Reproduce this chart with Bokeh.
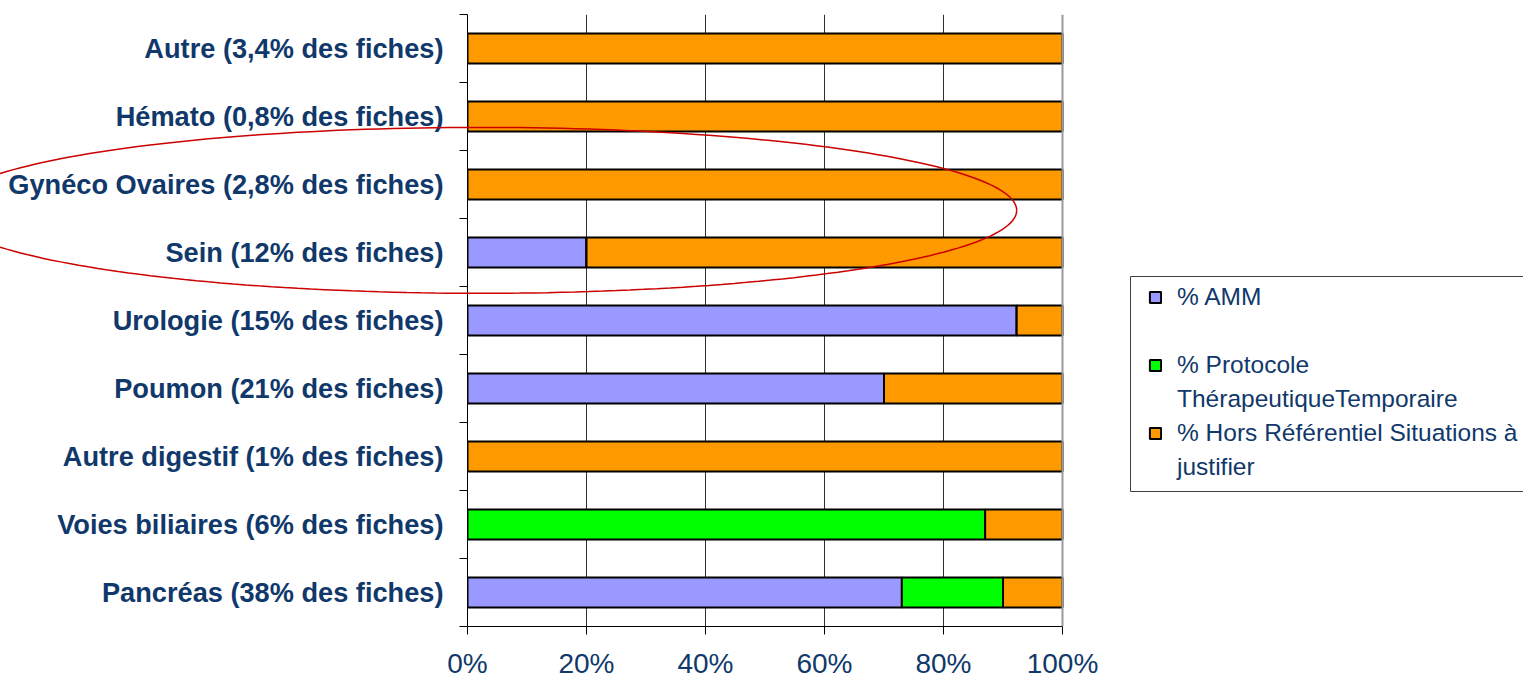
import numpy as np
from bokeh.plotting import figure
from bokeh.models import (Range1d, FixedTicker, Legend, LegendItem, BoxAnnotation,
                          PrintfTickFormatter, ColumnDataSource, Span)
from bokeh.embed import file_html
from bokeh.resources import INLINE

# Categories listed bottom to top
categories = [
    "Pancréas (38% des fiches)",
    "Voies biliaires (6% des fiches)",
    "Autre digestif (1% des fiches)",
    "Poumon (21% des fiches)",
    "Urologie (15% des fiches)",
    "Sein (12% des fiches)",
    "Gynéco Ovaires (2,8% des fiches)",
    "Hémato (0,8% des fiches)",
    "Autre (3,4% des fiches)",
]
pct_amm = [73, 0, 0, 70, 92.3, 20, 0, 0, 0]
pct_ptt = [17, 87, 0, 0, 0, 0, 0, 0, 0]
pct_hors = [10, 13, 100, 30, 7.7, 80, 100, 100, 100]
x_ticks = [0, 20, 40, 60, 80, 100]

# legend rows: (text, series index or None for a continuation line)
legend_rows = [
    ("% AMM", 0),
    (" ", None),
    ("% Protocole", 1),
    ("ThérapeutiqueTemporaire", None),
    ("% Hors Référentiel Situations à", 2),
    ("justifier", None),
]
colors = ["#9999FF", "#00FF00", "#FF9900"]

NAVY = "#10386A"
FONT = "Liberation Sans"

W, H = 1523, 681
LEFT, TOP, BOTTOM = 467, 14, 626
RIGHT_100 = 1062          # pixel column of the 100% gridline
n = len(categories)
centers = [i + 0.5 for i in range(n)]
boundaries = list(range(n + 1))

# the frame runs to the right edge; the legend sits inside it beyond 100%
x_end = 100 * (W - LEFT) / (RIGHT_100 - LEFT)
px_per_x = (RIGHT_100 - LEFT) / 100
px_per_y = (BOTTOM - TOP) / n

src = ColumnDataSource(dict(y=centers, amm=pct_amm, ptt=pct_ptt, hors=pct_hors))

p = figure(width=W, height=H, output_backend="svg", toolbar_location=None,
           x_range=Range1d(0, x_end), y_range=Range1d(0, n),
           min_border_left=LEFT, min_border_right=0, min_border_top=TOP,
           min_border_bottom=H - BOTTOM)
p.outline_line_color = None
p.background_fill_color = "white"
p.border_fill_color = "white"

renderers = p.hbar_stack(["amm", "ptt", "hors"], y="y", height=0.44, source=src,
                         fill_color=colors, line_color="black", line_width=2)

# x axis
xa = p.xaxis[0]
xa.bounds = (0, 100)
xa.ticker = FixedTicker(ticks=x_ticks)
xa.formatter = PrintfTickFormatter(format="%d%%")
xa.axis_line_color = "black"
xa.major_tick_line_color = "black"
xa.major_tick_out = 8
xa.major_tick_in = 0
xa.minor_tick_line_color = None
xa.major_label_text_font = FONT
xa.major_label_text_font_size = "28px"
xa.major_label_text_color = NAVY
xa.major_label_standoff = 13

# y axis: labels at centres, ticks on boundaries between categories
ya = p.yaxis[0]
ya.ticker = FixedTicker(ticks=centers, minor_ticks=boundaries)
ya.major_label_overrides = {c: lab for c, lab in zip(centers, categories)}
ya.major_tick_out = 0
ya.major_tick_in = 0
ya.minor_tick_out = 8
ya.minor_tick_in = 0
ya.minor_tick_line_color = "black"
ya.axis_line_color = "black"
ya.major_label_text_font = FONT
ya.major_label_text_font_style = "bold"
ya.major_label_text_font_size = "27.2px"
ya.major_label_text_color = NAVY
ya.major_label_standoff = 16

p.xgrid.ticker = FixedTicker(ticks=x_ticks[1:-1])
p.xgrid.grid_line_color = "#303030"
p.xgrid.grid_line_width = 1
p.ygrid.grid_line_color = None
p.add_layout(Span(location=100, dimension="height", line_color="#9a9a9a", line_width=2))

# highlight ring around the gynaecological categories, drawn over the labels too
t = np.linspace(0, 2 * np.pi, 240)
cx, cy, rx, ry = 2.2, 6.12, 90.1, 1.22
p.line(cx + rx * np.cos(t), cy + ry * np.sin(t), line_color="#CC0000",
       line_width=1.5, level="overlay")

# legend frame
p.add_layout(BoxAnnotation(left=(1130 - LEFT) / px_per_x, right=(1540 - LEFT) / px_per_x,
                           top=(BOTTOM - 276) / px_per_y, bottom=(BOTTOM - 491) / px_per_y,
                           fill_color=None, fill_alpha=0, line_color="#404040",
                           line_alpha=1, line_width=1, level="annotation"))

items = [LegendItem(label=txt, renderers=[] if k is None else [renderers[k]])
         for txt, k in legend_rows]
legend = Legend(items=items, location=(1153 - LEFT - 5, BOTTOM - 484),
                orientation="vertical",
                label_text_font=FONT, label_text_font_size="24.5px",
                label_text_color=NAVY, label_height=34,
                glyph_width=14, glyph_height=14, label_standoff=15,
                spacing=0, padding=5, margin=0,
                border_line_color=None, background_fill_alpha=0)
p.add_layout(legend, "center")

open("out.html", "w").write(file_html(p, INLINE))
